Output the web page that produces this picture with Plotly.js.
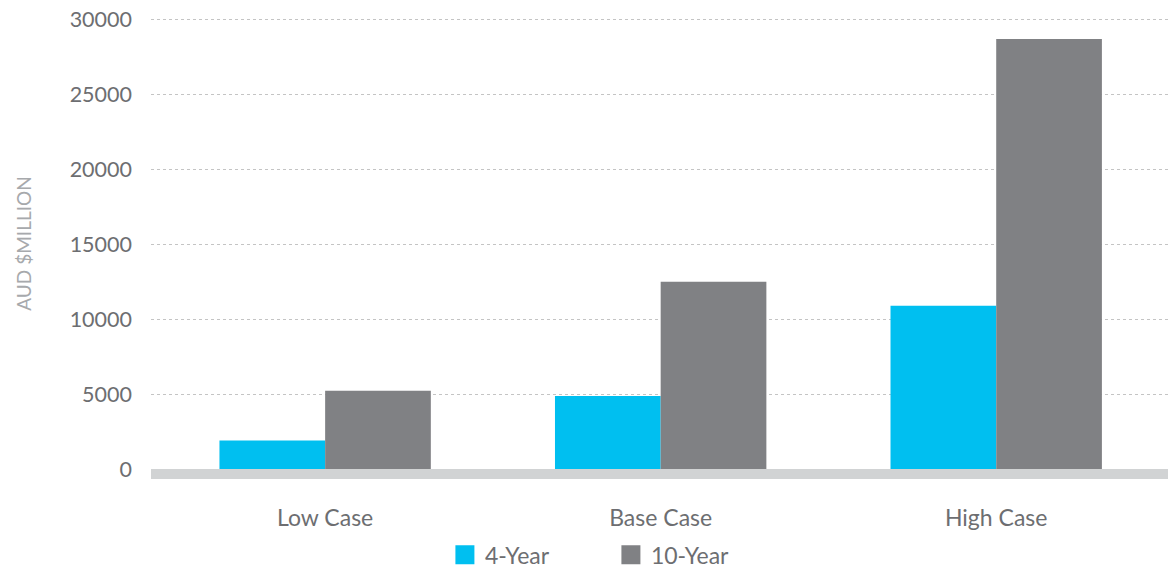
<!DOCTYPE html>
<html>
<head>
<meta charset="utf-8">
<script src="https://cdn.plot.ly/plotly-3.0.1.min.js"></script>
<style>
  html, body { margin: 0; padding: 0; background: #ffffff; }
  #chart { width: 1168px; height: 572px; }
</style>
</head>
<body>
<div id="chart"></div>
<script>
// Data (AUD $million)
const categories = ["Low Case", "Base Case", "High Case"];
const seriesNames = ["4-Year", "10-Year"];
const fourYear = [1900, 4880, 10900];
const tenYear = [5230, 12500, 28700];
const yTickValues = [0, 5000, 10000, 15000, 20000, 25000, 30000];
const yTickLabels = ["0", "5000", "10000", "15000", "20000", "25000", "30000"];

const FONT = "Lato, 'Open Sans', sans-serif";
const TEXT_GRAY = "#6d6e71";

const traces = [
  {
    type: "bar",
    name: seriesNames[0],
    x: categories,
    y: fourYear,
    marker: { color: "#00bff0", line: { width: 0 } },
    hoverinfo: "x+y+name"
  },
  {
    type: "bar",
    name: seriesNames[1],
    x: categories,
    y: tenYear,
    marker: { color: "#808184", line: { width: 0 } },
    hoverinfo: "x+y+name"
  }
];

const layout = {
  width: 1168,
  height: 572,
  paper_bgcolor: "#ffffff",
  plot_bgcolor: "#ffffff",
  margin: { l: 151, r: 0, t: 18, b: 103, pad: 0, autoexpand: false },
  barmode: "group",
  bargap: 0.37,
  bargroupgap: 0,
  font: { family: FONT, color: TEXT_GRAY, size: 21 },
  showlegend: true,
  legend: {
    orientation: "h",
    xref: "paper",
    x: 0.289,
    xanchor: "left",
    yref: "container",
    y: 0.03,
    yanchor: "middle",
    font: { family: FONT, size: 23, color: TEXT_GRAY },
    entrywidth: 121,
    entrywidthmode: "pixels",
    traceorder: "normal",
    bgcolor: "rgba(0,0,0,0)"
  },
  xaxis: {
    type: "category",
    range: [-0.519, 2.512],
    showgrid: false,
    zeroline: false,
    showline: true,
    linecolor: "#d1d3d4",
    linewidth: 10,
    ticks: "",
    tickfont: { family: FONT, size: 23, color: TEXT_GRAY },
    ticklabelstandoff: 19,
    fixedrange: true
  },
  yaxis: {
    range: [0, 30100],
    tickvals: yTickValues,
    ticktext: yTickLabels,
    showgrid: true,
    gridcolor: "#c4c4c4",
    gridwidth: 1,
    griddash: "dot",
    zeroline: false,
    showline: false,
    ticks: "",
    ticklabelstandoff: 18,
    tickfont: { family: FONT, size: 21.5, color: TEXT_GRAY },
    title: {
      text: "AUD $MILLION",
      font: { family: FONT, size: 19, color: "#a7a9ac" },
      standoff: 32
    },
    fixedrange: true
  }
};

Plotly.newPlot("chart", traces, layout, { displayModeBar: false, staticPlot: true }).then(function (gd) {
  // larger square legend swatches (19px), as in the reference
  gd.querySelectorAll(".legend .legendpoints path").forEach(function (p) {
    p.setAttribute("d", "M9.5,9.5H-9.5V-9.5H9.5Z");
  });
});
</script>
</body>
</html>
